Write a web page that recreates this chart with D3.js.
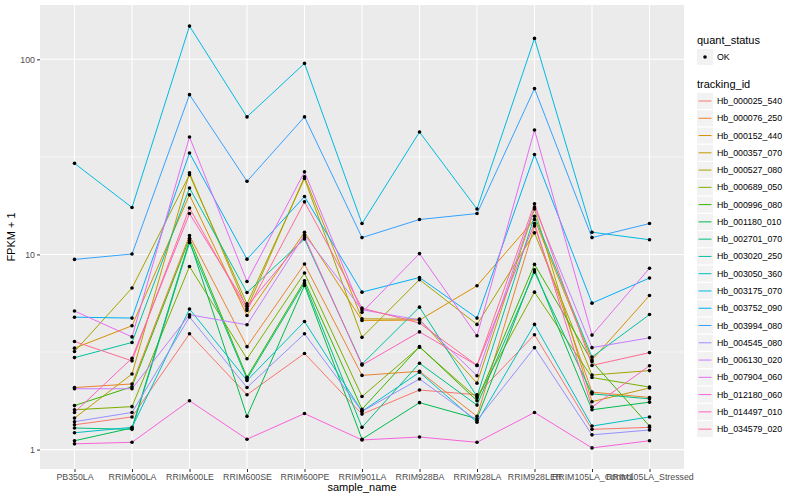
<!DOCTYPE html>
<html>
<head>
<meta charset="utf-8">
<script src="https://cdn.jsdelivr.net/npm/d3@7"></script>
<style>
  body { margin: 0; background: #fff; }
  text { font-family: "Liberation Sans", Arial, Helvetica, sans-serif; }
</style>
</head>
<body>
<svg id="chart" width="800" height="500"></svg>
<script>
// sample order on the x axis
var samples = ["PB350LA", "RRIM600LA", "RRIM600LE", "RRIM600SE", "RRIM600PE", "RRIM901LA",
  "RRIM928BA", "RRIM928LA", "RRIM928LER", "RRIM105LA_Control", "RRIM105LA_Stressed"];

var trackingIds = ["Hb_000025_540", "Hb_000076_250", "Hb_000152_440", "Hb_000357_070", "Hb_000527_080",
  "Hb_000689_050", "Hb_000996_080", "Hb_001180_010", "Hb_002701_070", "Hb_003020_250",
  "Hb_003050_360", "Hb_003175_070", "Hb_003752_090", "Hb_003994_080", "Hb_004545_080",
  "Hb_006130_020", "Hb_007904_060", "Hb_012180_060", "Hb_014497_010", "Hb_034579_020"];

// FPKM + 1, one value per sample
var hb000025_540 = [1.34, 1.47, 3.92, 1.91, 3.11, 1.52, 2.02, 1.91, 3.88, 1.27, 1.30];
var hb000076_250 = [2.08, 2.17, 12.5, 3.37, 8.93, 2.40, 2.52, 1.48, 14.0, 1.97, 1.85];
var hb000152_440 = [3.31, 4.31, 20.2, 4.87, 13.0, 4.59, 4.61, 6.91, 15.1, 2.88, 6.16];
var hb000357_070 = [1.45, 2.44, 26.2, 5.27, 25.0, 4.68, 4.66, 2.19, 17.1, 1.76, 2.07];
var hb000527_080 = [3.18, 6.73, 25.6, 5.58, 24.5, 3.76, 7.43, 4.38, 12.9, 2.41, 2.54];
var hb000689_050 = [1.60, 1.66, 8.68, 2.92, 8.03, 1.87, 3.35, 1.84, 6.41, 2.34, 2.09];
var hb000996_080 = [1.68, 2.10, 12.1, 2.35, 7.33, 1.61, 3.37, 1.78, 8.89, 2.83, 1.32];
var hb001180_010 = [1.11, 1.29, 11.8, 1.48, 6.94, 1.13, 1.74, 1.44, 8.35, 1.60, 1.75];
var hb002701_070 = [1.29, 1.27, 11.5, 2.30, 7.13, 1.30, 2.77, 1.69, 8.12, 1.93, 1.82];
var hb003020_250 = [2.96, 3.54, 21.9, 6.38, 12.0, 2.74, 5.37, 1.87, 15.7, 2.98, 4.92];
var hb003050_360 = [1.22, 1.30, 5.25, 2.26, 4.53, 1.57, 2.49, 1.38, 4.38, 1.32, 1.47];
var hb003175_070 = [29.3, 17.4, 148, 50.7, 95.3, 14.4, 42.4, 17.1, 128, 13.0, 11.9];
var hb003752_090 = [4.77, 4.72, 33.1, 9.46, 19.8, 6.41, 7.62, 4.72, 32.5, 5.63, 7.57];
var hb003994_080 = [9.43, 10.05, 65.9, 23.7, 50.7, 12.2, 15.1, 16.2, 70.8, 12.2, 14.4];
var hb004545_080 = [1.39, 1.55, 4.78, 2.08, 3.92, 1.57, 2.30, 1.41, 3.33, 1.19, 1.26];
var hb006130_020 = [2.05, 2.05, 4.91, 4.36, 12.6, 5.21, 4.61, 2.39, 17.5, 3.33, 3.74];
var hb007904_060 = [5.13, 3.78, 40.0, 7.27, 26.5, 5.05, 10.1, 3.83, 43.4, 3.86, 8.50];
var hb012180_060 = [1.07, 1.09, 1.78, 1.13, 1.53, 1.12, 1.16, 1.09, 1.55, 1.02, 1.11];
var hb014497_010 = [1.55, 2.94, 16.2, 5.42, 12.3, 2.71, 4.01, 2.70, 14.4, 1.65, 2.69];
var hb034579_020 = [3.58, 2.85, 17.3, 5.16, 18.6, 5.31, 4.45, 2.70, 18.2, 2.70, 3.14];

var yTicks = [1, 10, 100];
var yMinorTicks = [3.162, 31.62];
var statusLevels = ["OK"];

// ggplot default hue palette for 20 groups
var huePal = ["#F8766D", "#EA8331", "#D89000", "#C09B00", "#A3A500", "#7CAE00", "#39B600", "#00BB4E",
  "#00BF7D", "#00C1A3", "#00BFC4", "#00BAE0", "#00B0F6", "#35A2FF", "#9590FF", "#C77CFF",
  "#E76BF3", "#FA62DB", "#FF62BC", "#FF6C91"];

var allValues = [hb000025_540, hb000076_250, hb000152_440, hb000357_070, hb000527_080,
  hb000689_050, hb000996_080, hb001180_010, hb002701_070, hb003020_250,
  hb003050_360, hb003175_070, hb003752_090, hb003994_080, hb004545_080,
  hb006130_020, hb007904_060, hb012180_060, hb014497_010, hb034579_020];

var series = trackingIds.map(function (id, i) {
  return {
    id: id,
    values: samples.map(function (s, j) { return { sample: s, value: allValues[i][j] }; })
  };
});

var panel = { left: 40, right: 684, top: 5, bottom: 469 };
var svg = d3.select("#chart");

var x = d3.scalePoint().domain(samples).range([panel.left, panel.right]).padding(0.6);

// log scale with ggplot's 5% expansion in log space
var flat = [].concat.apply([], allValues);
var lo = Math.log10(d3.min(flat)), hi = Math.log10(d3.max(flat));
var pad = (hi - lo) * 0.05;
var y = d3.scaleLog()
  .domain([Math.pow(10, lo - pad), Math.pow(10, hi + pad)])
  .range([panel.bottom, panel.top]);

var color = d3.scaleOrdinal().domain(trackingIds).range(huePal);

// panel background + grid
svg.append("rect")
  .attr("x", panel.left).attr("y", panel.top)
  .attr("width", panel.right - panel.left).attr("height", panel.bottom - panel.top)
  .attr("fill", "#EBEBEB");

var grid = svg.append("g");
grid.selectAll(".minor").data(yMinorTicks).join("line")
  .attr("x1", panel.left).attr("x2", panel.right)
  .attr("y1", function (d) { return y(d); }).attr("y2", function (d) { return y(d); })
  .attr("stroke", "#fff").attr("stroke-width", 0.55);
grid.selectAll(".major").data(yTicks).join("line")
  .attr("x1", panel.left).attr("x2", panel.right)
  .attr("y1", function (d) { return y(d); }).attr("y2", function (d) { return y(d); })
  .attr("stroke", "#fff").attr("stroke-width", 1.1);
grid.selectAll(".vx").data(samples).join("line")
  .attr("x1", function (d) { return x(d); }).attr("x2", function (d) { return x(d); })
  .attr("y1", panel.top).attr("y2", panel.bottom)
  .attr("stroke", "#fff").attr("stroke-width", 1.1);

// lines
var line = d3.line()
  .x(function (d) { return x(d.sample); })
  .y(function (d) { return y(d.value); });

svg.append("g").selectAll("path").data(series).join("path")
  .attr("d", function (d) { return line(d.values); })
  .attr("fill", "none")
  .attr("stroke", function (d) { return color(d.id); })
  .attr("stroke-width", 1);

// points
svg.append("g").selectAll("g").data(series).join("g")
  .selectAll("circle").data(function (d) { return d.values; }).join("circle")
  .attr("cx", function (d) { return x(d.sample); })
  .attr("cy", function (d) { return y(d.value); })
  .attr("r", 1.8)
  .attr("fill", "#000");

// axes
var xAxis = svg.append("g")
  .attr("transform", "translate(0," + panel.bottom + ")")
  .call(d3.axisBottom(x).tickSize(3).tickPadding(2));
xAxis.select(".domain").remove();
xAxis.selectAll("line").attr("stroke", "#333");
xAxis.selectAll("text").attr("fill", "#4D4D4D").style("font-size", "8.8px")
  .style("font-family", "'Liberation Sans', Arial, sans-serif");

var yAxis = svg.append("g")
  .attr("transform", "translate(" + panel.left + ",0)")
  .call(d3.axisLeft(y).tickValues(yTicks).tickFormat(d3.format("d")).tickSize(3).tickPadding(2));
yAxis.select(".domain").remove();
yAxis.selectAll("line").attr("stroke", "#333");
yAxis.selectAll("text").attr("fill", "#4D4D4D").style("font-size", "8.8px")
  .style("font-family", "'Liberation Sans', Arial, sans-serif");

svg.append("text")
  .attr("x", (panel.left + panel.right) / 2).attr("y", 491)
  .attr("text-anchor", "middle").style("font-size", "11px").attr("fill", "#000")
  .text("sample_name");

svg.append("text")
  .attr("transform", "translate(15," + (panel.top + panel.bottom) / 2 + ") rotate(-90)")
  .attr("text-anchor", "middle").style("font-size", "11px").attr("fill", "#000")
  .text("FPKM + 1");

// legends
var legend = svg.append("g").attr("transform", "translate(697,0)");

legend.append("text").attr("x", 0).attr("y", 44).style("font-size", "11px").text("quant_status");
var sKey = legend.selectAll(".skey").data(statusLevels).join("g")
  .attr("transform", function (d, i) { return "translate(0," + (49 + i * 17.3) + ")"; });
sKey.append("rect").attr("width", 16).attr("height", 16).attr("fill", "#F2F2F2");
sKey.append("circle").attr("cx", 8).attr("cy", 8).attr("r", 1.8).attr("fill", "#000");
sKey.append("text").attr("x", 20).attr("y", 11).style("font-size", "8.8px").text(function (d) { return d; });

legend.append("text").attr("x", 0).attr("y", 88).style("font-size", "11px").text("tracking_id");
var tKey = legend.selectAll(".tkey").data(trackingIds).join("g")
  .attr("transform", function (d, i) { return "translate(0," + (93 + i * 17.27) + ")"; });
tKey.append("rect").attr("width", 16).attr("height", 16).attr("fill", "#F2F2F2");
tKey.append("line").attr("x1", 1.5).attr("x2", 14.5).attr("y1", 8).attr("y2", 8)
  .attr("stroke", function (d) { return color(d); }).attr("stroke-width", 1);
tKey.append("text").attr("x", 20).attr("y", 11).style("font-size", "8.8px").text(function (d) { return d; });
</script>
</body>
</html>
